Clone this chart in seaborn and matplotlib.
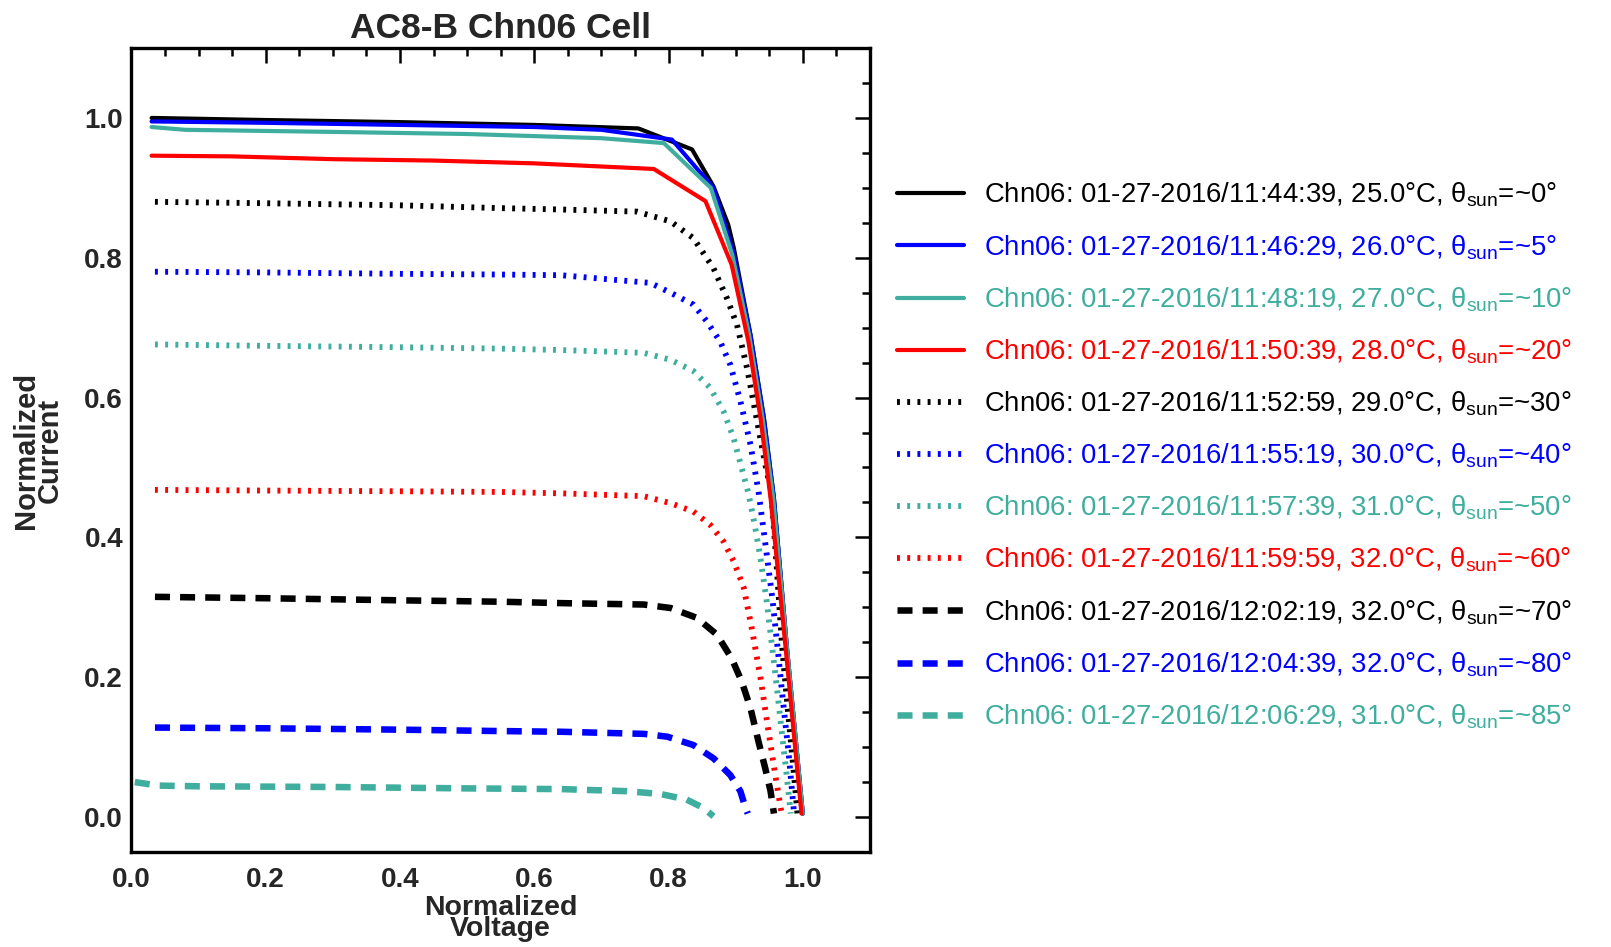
import matplotlib
matplotlib.use("Agg")
import matplotlib.pyplot as plt
from matplotlib import font_manager as fm
from matplotlib.ticker import MultipleLocator, FormatStrFormatter
import seaborn as sns

# ---------------- data ----------------
labels = [
    "Chn06: 01-27-2016/11:44:39, 25.0°C, θ$_{\\rm sun}$=~0°",
    "Chn06: 01-27-2016/11:46:29, 26.0°C, θ$_{\\rm sun}$=~5°",
    "Chn06: 01-27-2016/11:48:19, 27.0°C, θ$_{\\rm sun}$=~10°",
    "Chn06: 01-27-2016/11:50:39, 28.0°C, θ$_{\\rm sun}$=~20°",
    "Chn06: 01-27-2016/11:52:59, 29.0°C, θ$_{\\rm sun}$=~30°",
    "Chn06: 01-27-2016/11:55:19, 30.0°C, θ$_{\\rm sun}$=~40°",
    "Chn06: 01-27-2016/11:57:39, 31.0°C, θ$_{\\rm sun}$=~50°",
    "Chn06: 01-27-2016/11:59:59, 32.0°C, θ$_{\\rm sun}$=~60°",
    "Chn06: 01-27-2016/12:02:19, 32.0°C, θ$_{\\rm sun}$=~70°",
    "Chn06: 01-27-2016/12:04:39, 32.0°C, θ$_{\\rm sun}$=~80°",
    "Chn06: 01-27-2016/12:06:29, 31.0°C, θ$_{\\rm sun}$=~85°",
]

v_0 = [0.03, 0.20, 0.40, 0.60, 0.755, 0.835, 0.867, 0.889, 0.897, 0.922, 0.942, 0.957, 0.976, 1.000]
i_0 = [1.000, 0.997, 0.994, 0.990, 0.985, 0.955, 0.902, 0.847, 0.815, 0.690, 0.571, 0.456, 0.246, 0.005]

v_5 = [0.03, 0.20, 0.40, 0.60, 0.70, 0.805, 0.867, 0.897, 0.922, 0.942, 0.957, 0.976, 1.000]
i_5 = [0.995, 0.993, 0.990, 0.987, 0.983, 0.969, 0.900, 0.806, 0.690, 0.571, 0.456, 0.246, 0.005]

v_10 = [0.03, 0.08, 0.30, 0.50, 0.70, 0.793, 0.863, 0.895, 0.920, 0.940, 0.956, 0.976, 1.000]
i_10 = [0.987, 0.983, 0.980, 0.977, 0.971, 0.964, 0.900, 0.804, 0.690, 0.571, 0.456, 0.246, 0.005]

v_20 = [0.03, 0.15, 0.30, 0.45, 0.60, 0.778, 0.855, 0.894, 0.919, 0.937, 0.952, 0.974, 0.998]
i_20 = [0.946, 0.945, 0.941, 0.939, 0.935, 0.927, 0.881, 0.790, 0.680, 0.571, 0.456, 0.246, 0.005]

v_30 = [0.035, 0.20, 0.40, 0.55, 0.64, 0.753, 0.803, 0.837, 0.867, 0.887, 0.902, 0.917,
        0.932, 0.944, 0.953, 0.961, 0.969, 0.978, 0.986, 0.992]
i_30 = [0.880, 0.878, 0.875, 0.871, 0.869, 0.866, 0.852, 0.828, 0.785, 0.742, 0.704, 0.642,
        0.566, 0.505, 0.465, 0.360, 0.246, 0.150, 0.070, 0.005]

v_40 = [0.035, 0.20, 0.40, 0.55, 0.64, 0.773, 0.803, 0.837, 0.857, 0.877, 0.892, 0.907,
        0.922, 0.934, 0.945, 0.955, 0.962, 0.970, 0.979, 0.987]
i_40 = [0.780, 0.779, 0.777, 0.776, 0.775, 0.764, 0.750, 0.733, 0.709, 0.680, 0.647, 0.595,
        0.533, 0.466, 0.385, 0.310, 0.246, 0.170, 0.090, 0.005]

v_50 = [0.035, 0.20, 0.40, 0.55, 0.64, 0.763, 0.803, 0.837, 0.862, 0.882, 0.897, 0.909,
        0.919, 0.928, 0.937, 0.946, 0.954, 0.962, 0.970, 0.976, 0.982]
i_50 = [0.676, 0.674, 0.672, 0.670, 0.668, 0.664, 0.654, 0.638, 0.614, 0.580, 0.542, 0.499,
        0.463, 0.420, 0.370, 0.310, 0.246, 0.180, 0.110, 0.060, 0.005]

v_60 = [0.035, 0.20, 0.40, 0.55, 0.64, 0.763, 0.803, 0.837, 0.862, 0.882, 0.897, 0.912,
        0.924, 0.937, 0.949, 0.959, 0.969]
i_60 = [0.468, 0.467, 0.466, 0.465, 0.463, 0.459, 0.449, 0.437, 0.418, 0.394, 0.366, 0.328,
        0.270, 0.199, 0.122, 0.060, 0.002]

v_70 = [0.035, 0.20, 0.40, 0.55, 0.64, 0.763, 0.803, 0.842, 0.872, 0.894, 0.909, 0.922,
        0.934, 0.944, 0.952, 0.957]
i_70 = [0.315, 0.313, 0.310, 0.308, 0.306, 0.304, 0.299, 0.285, 0.261, 0.227, 0.194, 0.156,
        0.108, 0.070, 0.037, 0.005]

v_80 = [0.035, 0.20, 0.40, 0.55, 0.64, 0.763, 0.798, 0.837, 0.867, 0.892, 0.907, 0.914, 0.918]
i_80 = [0.128, 0.127, 0.125, 0.123, 0.122, 0.119, 0.115, 0.103, 0.084, 0.060, 0.037, 0.015, 0.005]

v_85 = [0.005, 0.04, 0.10, 0.30, 0.50, 0.64, 0.738, 0.788, 0.827, 0.852, 0.867]
i_85 = [0.050, 0.045, 0.044, 0.043, 0.041, 0.040, 0.037, 0.033, 0.025, 0.013, 0.001]

voltages = [v_0, v_5, v_10, v_20, v_30, v_40, v_50, v_60, v_70, v_80, v_85]
currents = [i_0, i_5, i_10, i_20, i_30, i_40, i_50, i_60, i_70, i_80, i_85]

x_ticks = [0.0, 0.2, 0.4, 0.6, 0.8, 1.0]
y_ticks = [0.0, 0.2, 0.4, 0.6, 0.8, 1.0]

# ---------------- styles ----------------
BLACK, BLUE, TEAL, RED = "#000000", "#0000ff", "#3fae9e", "#ff0000"
colors = [BLACK, BLUE, TEAL, RED] * 2 + [BLACK, BLUE, TEAL]
SOLID = "-"
DOTTED = (0, (0.5, 1.25))
DASHED = (0, (2.3, 1.55))
styles = [SOLID] * 4 + [DOTTED] * 4 + [DASHED] * 3
widths = [3.0] * 4 + [4.2] * 4 + [4.7] * 3

sns.set_style("white")
names = {f.name for f in fm.fontManager.ttflist}
narrow = "Liberation Sans Narrow" in names
legend_family = "Liberation Sans Narrow" if narrow else "Liberation Sans"
plt.rcParams["font.family"] = ["Liberation Sans", "DejaVu Sans"]
plt.rcParams["mathtext.fontset"] = "custom"
plt.rcParams["mathtext.rm"] = legend_family
plt.rcParams["mathtext.it"] = legend_family + ":italic"
plt.rcParams["mathtext.bf"] = legend_family + ":bold"

fig = plt.figure(figsize=(16.11, 9.47), dpi=100)
ax = fig.add_axes([0.0816, 0.1003, 0.4584, 0.8490])

order = [4, 5, 6, 7, 8, 9, 10, 0, 1, 2, 3]
for k in order:
    sns.lineplot(x=voltages[k], y=currents[k], ax=ax, color=colors[k],
                 linestyle=styles[k], linewidth=widths[k], label=labels[k],
                 sort=False, estimator=None, legend=False)

ax.set_xlim(0.0, 1.1)
ax.set_ylim(-0.05, 1.1)
ax.set_xticks(x_ticks)
ax.set_yticks(y_ticks)
ax.xaxis.set_minor_locator(MultipleLocator(0.05))
ax.yaxis.set_minor_locator(MultipleLocator(0.05))
ax.xaxis.set_major_formatter(FormatStrFormatter("%.1f"))
ax.yaxis.set_major_formatter(FormatStrFormatter("%.1f"))

ax.tick_params(which="both", direction="in", top=True, right=True, width=1.8, color="black")
ax.tick_params(which="major", length=11)
ax.tick_params(which="minor", length=5.5)
ax.tick_params(axis="x", which="major", pad=11, labelsize=20)
ax.tick_params(axis="y", which="major", pad=6, labelsize=20)
for lab in ax.get_xticklabels() + ax.get_yticklabels():
    lab.set_fontweight("bold")
for sp in ax.spines.values():
    sp.set_linewidth(2.4)
    sp.set_color("black")

ax.set_title("AC8-B Chn06 Cell", fontsize=25.5, fontweight="bold", pad=7)
ax.set_xlabel("Normalized\nVoltage", fontsize=20.5, fontweight="bold", linespacing=0.78, labelpad=1)
ax.set_ylabel("Normalized\nCurrent", fontsize=21, fontweight="bold", linespacing=0.8, labelpad=15)

handles, labs = ax.get_legend_handles_labels()
pairs = sorted(zip(handles, labs), key=lambda p: labels.index(p[1]))
handles = [p[0] for p in pairs]
labs = [p[1] for p in pairs]

if narrow:
    fsz, hl, htp, lsp = 24, 2.0, 0.6, 0.45
else:
    fsz, hl, htp, lsp = 19.8, 2.43, 0.73, 0.86

leg = ax.legend(handles, labs, loc="upper left", bbox_to_anchor=(0.557, 0.809),
                bbox_transform=fig.transFigure, frameon=False,
                prop={"family": legend_family, "size": fsz},
                handlelength=hl, handletextpad=htp, labelspacing=lsp,
                borderpad=0, borderaxespad=0, labelcolor="linecolor")

fig.savefig("out.png", dpi=100)
